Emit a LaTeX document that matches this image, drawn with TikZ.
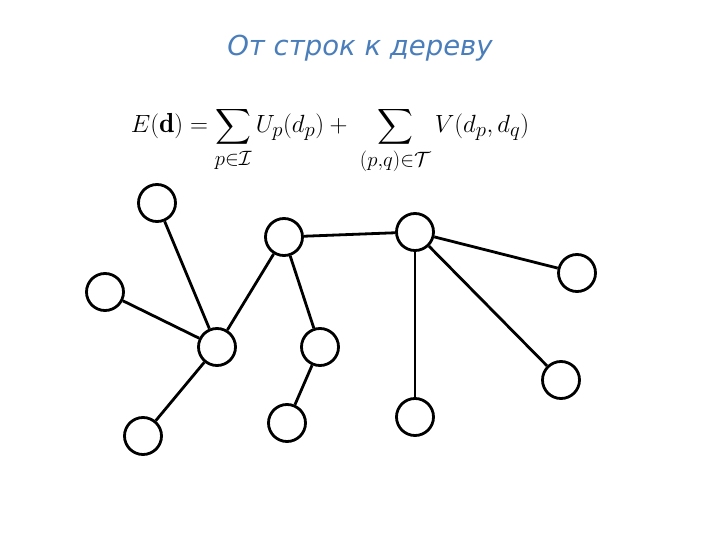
\documentclass[tikz,border=0pt]{standalone}
\usepackage{amsmath}
\usepackage{fontspec}
\usepackage{tikz}
\newfontfamily\titlefont{DejaVu Sans}
\definecolor{TitleBlue}{HTML}{4A7EBB}
\tikzset{vert/.style={circle,draw=black,fill=white,line width=2.8pt,minimum size=37pt,inner sep=0pt},link/.style={line width=2.8pt,draw=black}}

\begin{document}
\begin{tikzpicture}[x=1pt,y=-1pt]
        \useasboundingbox(0,0)rectangle(720,540);
        \node[TitleBlue,font=\titlefont\itshape\fontsize{27.5}{32}\selectfont](title)at(360,48){От строк к дереву};
        \node[font=\fontsize{27.5}{32}\selectfont,anchor=base](energy)at(330,133){$\displaystyle E(\mathbf{d})=\sum_{p\in\mathcal{I}}U_p(d_p)+\;\sum_{(p,q)\in\mathcal{T}}V(d_p,d_q)$};
        % vertices
        \node[vert](a)at(157,203){};
        \node[vert](b)at(105,292){};
        \node[vert](c)at(217,347){};
        \node[vert](d)at(143,436){};
        \node[vert](e)at(284,237){};
        \node[vert](f)at(320,347){};
        \node[vert](g)at(287,423){};
        \node[vert](h)at(415,232){};
        \node[vert](i)at(577,273){};
        \node[vert](j)at(561,380){};
        \node[vert](k)at(415,417){};
        % edges
        \draw[link](a)--(c);
        \draw[link](b)--(c);
        \draw[link](d)--(c);
        \draw[link](c)--(e);
        \draw[link](e)--(f);
        \draw[link](f)--(g);
        \draw[link](e)--(h);
        \draw[link](h)--(i);
        \draw[link](h)--(j);
        \draw[link](h)--(k);
      \end{tikzpicture}
\end{document}
